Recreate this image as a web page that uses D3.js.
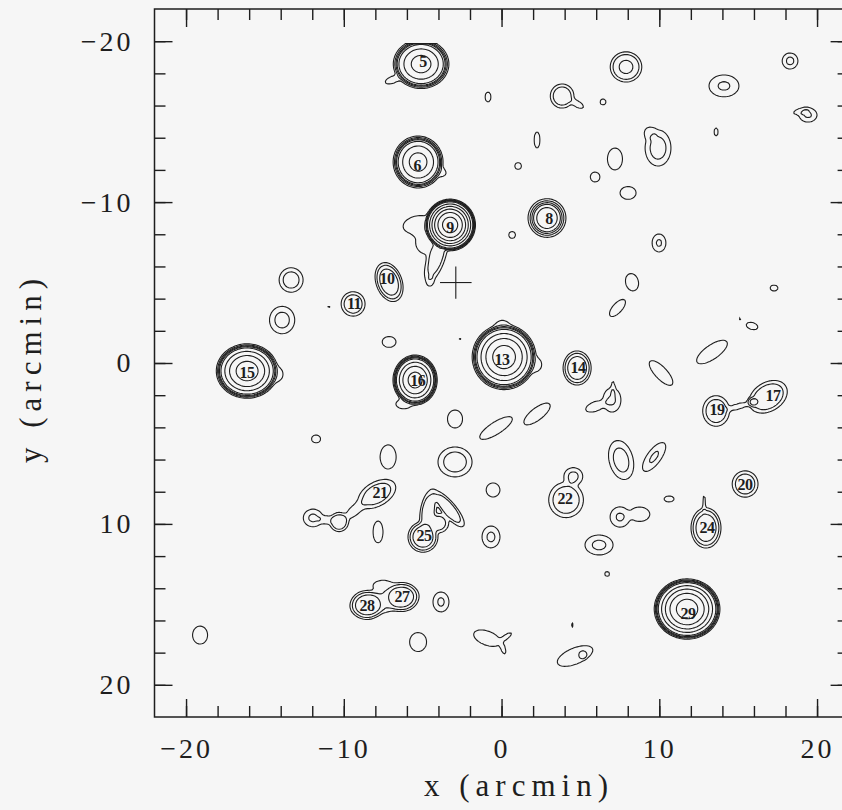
<!DOCTYPE html>
<html>
<head>
<meta charset="utf-8">
<script src="https://cdn.jsdelivr.net/npm/d3@7"></script>
<style>
  body { margin: 0; background: #f6f6f6; }
  svg { display: block; }
</style>
</head>
<body>
<div id="container"></div>
<script>
const width = 842;
const height = 810;
const serif = "'Liberation Serif', 'DejaVu Serif', serif";

// contour levels, in units of the noise sigma
const levels = [3, 4, 5, 6, 8, 16, 32, 64, 128, 256];

// blobs: [x, y, peak (sigma), rMajor, rMinor, angle]
// r = radius of the lowest contour in arcmin
const brightSources = [
    [-5.10, -18.58, 45, 1.76, 1.52, 0],     // 5
    [-5.29, -12.49, 45, 1.58, 1.61, 0],     // 6
    [-3.26, -8.58, 400, 1.6, 1.6, 0],       // 9
    [2.88, -9.01, 12, 1.2, 1.2, 0],         // 8
    [0.16, -0.37, 100, 2.02, 2.02, 0],      // 13
    [-16.13, 0.50, 100, 1.95, 1.69, 0],     // 15
    [-5.48, 1.06, 90, 1.40, 1.55, 0],       // 16
    [11.76, 15.29, 200, 2.08, 1.87, 0],     // 29
    [4.79, 0.31, 5.7, 0.89, 1.06, 0],       // 14
    [-7.13, -5.03, 5.7, 1.26, 0.82, 69],    // 10
    [-9.41, -3.67, 4.6, 0.76, 0.76, 0],     // 11
    [13.60, 2.98, 4.6, 0.85, 0.95, 0],      // 19
    [15.00, 2.70, 3.3, 0.65, 0.18, -15],
    [16.90, 2.10, 4.8, 1.3, 0.9, -30],      // 17
    [15.94, 2.42, 4.9, 0.35, 0.3, 0],
    [15.44, 7.52, 4.6, 0.82, 0.82, 0],      // 20
    [12.96, 10.25, 5.7, 0.95, 1.25, 0],     // 24
    [12.84, 8.80, 3.3, 0.55, 0.1, 90],
    [4.09, 8.51, 4.6, 1.1, 1.1, 0],         // 22
    [4.55, 7.05, 4.1, 0.6, 0.55, 0],
    [-7.90, 8.14, 4.5, 1.3, 0.75, -29],     // 21
    [-10.30, 9.88, 4.6, 0.6, 0.6, 0],
    [-11.95, 9.63, 4.05, 0.62, 0.55, 0],
    [-9.30, 9.15, 3.3, 0.7, 0.3, -40],
    [-11.10, 9.75, 3.3, 0.4, 0.25, 0],
    [-4.98, 10.81, 5.7, 0.95, 0.95, 0],     // 25
    [-4.65, 9.20, 4.6, 1.3, 0.5, 100],
    [-3.37, 9.05, 4.6, 1.45, 0.45, 49],
    [-4.00, 9.95, 4.4, 0.65, 0.6, 0],
    [-6.31, 14.54, 5.6, 1.05, 0.9, 0],      // 27
    [-8.53, 15.04, 5.6, 1.05, 0.9, 0],      // 28
    [-7.42, 14.80, 4.15, 1.9, 0.7, -12],
    [-7.50, 13.85, 3.3, 0.65, 0.35, 0],
    // wings and tails of the bright ones
    [-5.30, -8.60, 3.4, 0.95, 0.55, -10],
    [-4.15, -6.50, 4.4, 1.55, 0.55, 110],
    [-4.70, -7.50, 3.3, 0.75, 0.75, 0],
    [-4.50, -5.10, 3.3, 0.3, 0.2, 100],
    [-6.20, 2.55, 3.3, 0.5, 0.3, 0],
    [-3.95, -11.90, 3.3, 0.45, 0.28, 20],
    [-6.90, -17.60, 3.3, 0.5, 0.22, -20],
    [10.50, 14.85, 3.3, 0.35, 0.35, 0],
    [-14.30, 0.70, 3.3, 0.45, 0.45, 0],
    [0.05, -2.20, 3.3, 0.45, 0.45, 0],
    [2.10, 0.10, 3.3, 0.45, 0.45, 0]
];

const faintBlobs = [
    [-0.86, -16.53, 3.75, 0.19, 0.31, 0],
    [3.84, -16.59, 4.6, 0.75, 0.75, 0],
    [4.79, -16.10, 3.3, 0.45, 0.2, 30],
    [2.25, -13.86, 3.75, 0.19, 0.50, 0],
    [1.05, -12.24, 3.75, 0.22, 0.22, 0],
    [0.67, -7.96, 3.75, 0.22, 0.22, 0],
    [7.89, -18.40, 5.1, 1.0, 0.94, 0],
    [6.43, -16.22, 3.75, 0.19, 0.19, 0],
    [14.10, -17.22, 4.03, 0.95, 0.68, 0],
    [18.29, -18.77, 4.07, 0.5, 0.5, 0],
    [19.43, -15.41, 4.03, 0.57, 0.44, 0],
    [18.95, -15.65, 3.3, 0.45, 0.18, -15],
    [13.60, -14.36, 3.75, 0.13, 0.25, 0],
    [9.92, -13.36, 4.2, 0.82, 1.12, 0],
    [9.40, -14.30, 3.3, 0.35, 0.35, 0],
    [7.19, -12.68, 3.75, 0.48, 0.68, 0],
    [5.93, -11.56, 3.75, 0.31, 0.31, 0],
    [8.02, -10.57, 3.75, 0.51, 0.40, 0],
    [9.98, -7.46, 4.03, 0.44, 0.56, 0],
    [-13.34, -5.16, 4.3, 0.76, 0.76, 0],
    [-13.91, -2.67, 4.15, 0.8, 0.85, 0],
    [-10.94, -3.48, 3.15, 0.07, 0.07, 0],
    [-7.13, -1.31, 3.75, 0.44, 0.34, 0],
    [-11.76, 4.72, 3.75, 0.29, 0.25, 0],
    [-7.19, 5.84, 3.75, 0.51, 0.75, 0],
    [-2.95, 6.15, 4.3, 1.08, 0.93, 0],
    [-2.63, -1.49, 3.15, 0.07, 0.07, 0],
    [8.27, -5.02, 3.75, 0.41, 0.55, -15],
    [7.35, -3.42, 3.75, 0.68, 0.3, -47],
    [17.27, -4.66, 3.75, 0.25, 0.19, 0],
    [15.12, -2.73, 3.15, 0.07, 0.07, 0],
    [15.88, -2.30, 3.75, 0.38, 0.22, 15],
    [13.34, -0.68, 3.75, 1.14, 0.44, -34],
    [10.11, 0.62, 3.75, 1.01, 0.38, 46],
    [7.00, 2.30, 4.03, 0.57, 0.75, 0],
    [5.95, 2.70, 3.4, 0.65, 0.3, -20],
    [7.07, 1.55, 3.3, 0.4, 0.12, 90],
    [2.25, 3.17, 3.75, 1.01, 0.38, -37],
    [-0.35, 4.04, 3.75, 1.20, 0.38, -32],
    [-2.95, 3.48, 3.75, 0.48, 0.56, 0],
    [7.58, 6.03, 4.2, 1.24, 0.76, 75],
    [9.67, 5.84, 4.03, 1.08, 0.44, -53],
    [-0.54, 7.89, 3.75, 0.44, 0.44, 0],
    [10.62, 8.45, 3.75, 0.32, 0.19, 0],
    [7.51, 9.57, 4.03, 0.63, 0.63, 0],
    [8.75, 9.40, 3.6, 0.65, 0.45, 0],
    [6.18, 11.31, 4.07, 0.89, 0.62, 0],
    [-0.67, 10.81, 4.05, 0.57, 0.68, 0],
    [-7.83, 10.50, 3.75, 0.32, 0.68, 0],
    [6.69, 13.11, 3.75, 0.16, 0.16, 0],
    [-3.84, 14.85, 4.04, 0.51, 0.62, 0],
    [-0.92, 17.10, 3.75, 0.89, 0.44, 20],
    [0.25, 17.05, 3.3, 0.45, 0.15, -35],
    [0.10, 17.75, 3.3, 0.35, 0.15, 70],
    [4.47, 16.28, 3.75, 0.06, 0.16, 0],
    [4.66, 18.21, 3.8, 1.2, 0.5, -22],
    [5.17, 18.15, 4.05, 0.25, 0.25, 0],
    [-5.29, 17.34, 3.75, 0.54, 0.59, 0],
    [-19.11, 16.91, 3.75, 0.48, 0.56, 0]
];

// source numbers and where they are written
const labelIds = [5, 6, 9, 8, 10, 11, 13, 14, 15, 16, 17, 19, 20, 21, 22, 24, 25, 27, 28, 29];
const labelX = [-4.98, -5.34, -3.26, 3.01, -7.26, -9.35, 0.03, 4.85, -16.13, -5.31, 17.21, 13.66, 15.44, -7.70, 4.03, 13.03, -4.91, -6.31, -8.53, 11.82];
const labelY = [-18.71, -12.26, -8.45, -9.01, -5.28, -3.67, -0.19, 0.31, 0.62, 1.06, 2.05, 2.92, 7.58, 8.02, 8.39, 10.25, 10.75, 14.54, 15.04, 15.54];

// cross marking the pointing position
const cross = [-2.9, -5.0];

const majorTicks = [-20, -10, 0, 10, 20];
const minorTicks = d3.range(-20, 21, 2);

// map area covered by the smoothed image
const gridStep = 0.1;
const gridX0 = -20.3, gridX1 = 20.4;
const gridY0 = -19.8, gridY1 = 20.0;

const svg = d3.select("#container")
    .append('svg')
    .attr('width', width)
    .attr('height', height)
    .attr('viewBox', [0, 0, width, height]);

svg.append('rect')
    .attr('width', width)
    .attr('height', height)
    .attr('fill', '#f6f6f6');

const x = d3.scaleLinear().domain([-22, 22]).range([154.5, 848.6]);
const y = d3.scaleLinear().domain([-22, 22]).range([9, 717]);

// smoothed map built from the blob list (blobs merge by a soft maximum)
const nx = Math.round((gridX1 - gridX0) / gridStep) + 1;
const ny = Math.round((gridY1 - gridY0) / gridStep) + 1;
const values = new Float64Array(nx * ny);
const power = 4;

function addBlob([cx, cy, peak, ra, rb, ang]) {
    // bright ones are gaussian, faint ones flatter on top
    const p = peak >= 8 ? 1 : 2;
    const l = Math.log(peak / 3);
    const rho0 = p === 1 ? Math.sqrt(2 * l) : Math.sqrt(2 * Math.sqrt(l));
    const sa = ra / rho0, sb = rb / rho0;
    const t = ang * Math.PI / 180;
    const c = Math.cos(t), s = Math.sin(t);
    const reach = (p === 1 ? 5 : 3) * Math.max(sa, sb);
    const i0 = Math.max(0, Math.floor((cx - reach - gridX0) / gridStep));
    const i1 = Math.min(nx - 1, Math.ceil((cx + reach - gridX0) / gridStep));
    const j0 = Math.max(0, Math.floor((cy - reach - gridY0) / gridStep));
    const j1 = Math.min(ny - 1, Math.ceil((cy + reach - gridY0) / gridStep));
    for (let j = j0; j <= j1; j++) {
        const dy = gridY0 + j * gridStep - cy;
        for (let i = i0; i <= i1; i++) {
            const dx = gridX0 + i * gridStep - cx;
            const u = (dx * c + dy * s) / sa;
            const v = (-dx * s + dy * c) / sb;
            const q = (u * u + v * v) / 2;
            const f = peak * Math.exp(-(p === 1 ? q : q * q));
            values[j * nx + i] += Math.pow(f, power);
        }
    }
}

brightSources.forEach(addBlob);
faintBlobs.forEach(addBlob);
for (let k = 0; k < values.length; k++) values[k] = Math.pow(values[k], 1 / power);

const contours = d3.contours()
    .size([nx, ny])
    .thresholds(levels)(Array.from(values));

const toScreen = d3.geoTransform({
    point(px, py) {
        this.stream.point(x(gridX0 + (px - 0.5) * gridStep), y(gridY0 + (py - 0.5) * gridStep));
    }
});
const path = d3.geoPath(toScreen);

svg.append('g')
    .selectAll('path')
    .data(contours)
    .join('path')
    .attr('d', path)
    .attr('fill', 'none')
    .attr('stroke', '#1e1e1e')
    .attr('stroke-width', 1.1);

// source numbers
svg.append('g')
    .selectAll('text')
    .data(labelIds)
    .join('text')
    .attr('x', (d, i) => x(labelX[i]))
    .attr('y', (d, i) => y(labelY[i]))
    .attr('text-anchor', 'middle')
    .attr('dominant-baseline', 'central')
    .attr('font-family', serif)
    .attr('font-size', 16)
    .attr('font-weight', 'bold')
    .attr('letter-spacing', -0.5)
    .attr('fill', '#1e1e1e')
    .text(d => d);

// pointing cross
svg.append('g')
    .attr('stroke', '#1e1e1e')
    .attr('stroke-width', 1.1)
    .call(g => g.append('line')
        .attr('x1', x(cross[0] - 1)).attr('x2', x(cross[0] + 1))
        .attr('y1', y(cross[1])).attr('y2', y(cross[1])))
    .call(g => g.append('line')
        .attr('x1', x(cross[0])).attr('x2', x(cross[0]))
        .attr('y1', y(cross[1] - 1)).attr('y2', y(cross[1] + 1)));

// frame and inward ticks on all sides
function styleAxis(g) {
    g.select('.domain').remove();
    g.selectAll('line').attr('stroke', '#1e1e1e').attr('stroke-width', 1.4);
    g.selectAll('text')
        .attr('font-family', serif)
        .attr('font-size', 28)
        .attr('letter-spacing', 3)
        .attr('fill', '#1e1e1e');
}

const sides = [
    [() => d3.axisBottom(x), `translate(0,${y(22)})`, true],
    [() => d3.axisTop(x), `translate(0,${y(-22)})`, false],
    [() => d3.axisLeft(y), `translate(${x(-22)},0)`, true],
    [() => d3.axisRight(y), `translate(${x(22)},0)`, false]
];

sides.forEach(([makeAxis, tr, labelled]) => {
    svg.append('g')
        .attr('transform', tr)
        .call(makeAxis().tickValues(minorTicks).tickSize(-11).tickFormat(''))
        .call(styleAxis);
    svg.append('g')
        .attr('transform', tr)
        .call(makeAxis().tickValues(majorTicks).tickSize(-18)
            .tickPadding(labelled ? 21 : 0)
            .tickFormat(labelled ? d3.format('d') : ''))
        .call(styleAxis);
});

svg.append('rect')
    .attr('x', x(-22))
    .attr('y', y(-22))
    .attr('width', x(22) - x(-22))
    .attr('height', y(22) - y(-22))
    .attr('fill', 'none')
    .attr('stroke', '#1e1e1e')
    .attr('stroke-width', 1.5);

// axis titles
svg.append('text')
    .attr('x', 519)
    .attr('y', 785)
    .attr('text-anchor', 'middle')
    .attr('dominant-baseline', 'central')
    .attr('font-family', serif)
    .attr('font-size', 31)
    .attr('letter-spacing', 6)
    .attr('fill', '#1e1e1e')
    .text('x (arcmin)');

svg.append('text')
    .attr('transform', 'translate(30,368) rotate(-90)')
    .attr('text-anchor', 'middle')
    .attr('dominant-baseline', 'central')
    .attr('font-family', serif)
    .attr('font-size', 31)
    .attr('letter-spacing', 6)
    .attr('fill', '#1e1e1e')
    .text('y (arcmin)');
</script>
</body>
</html>
